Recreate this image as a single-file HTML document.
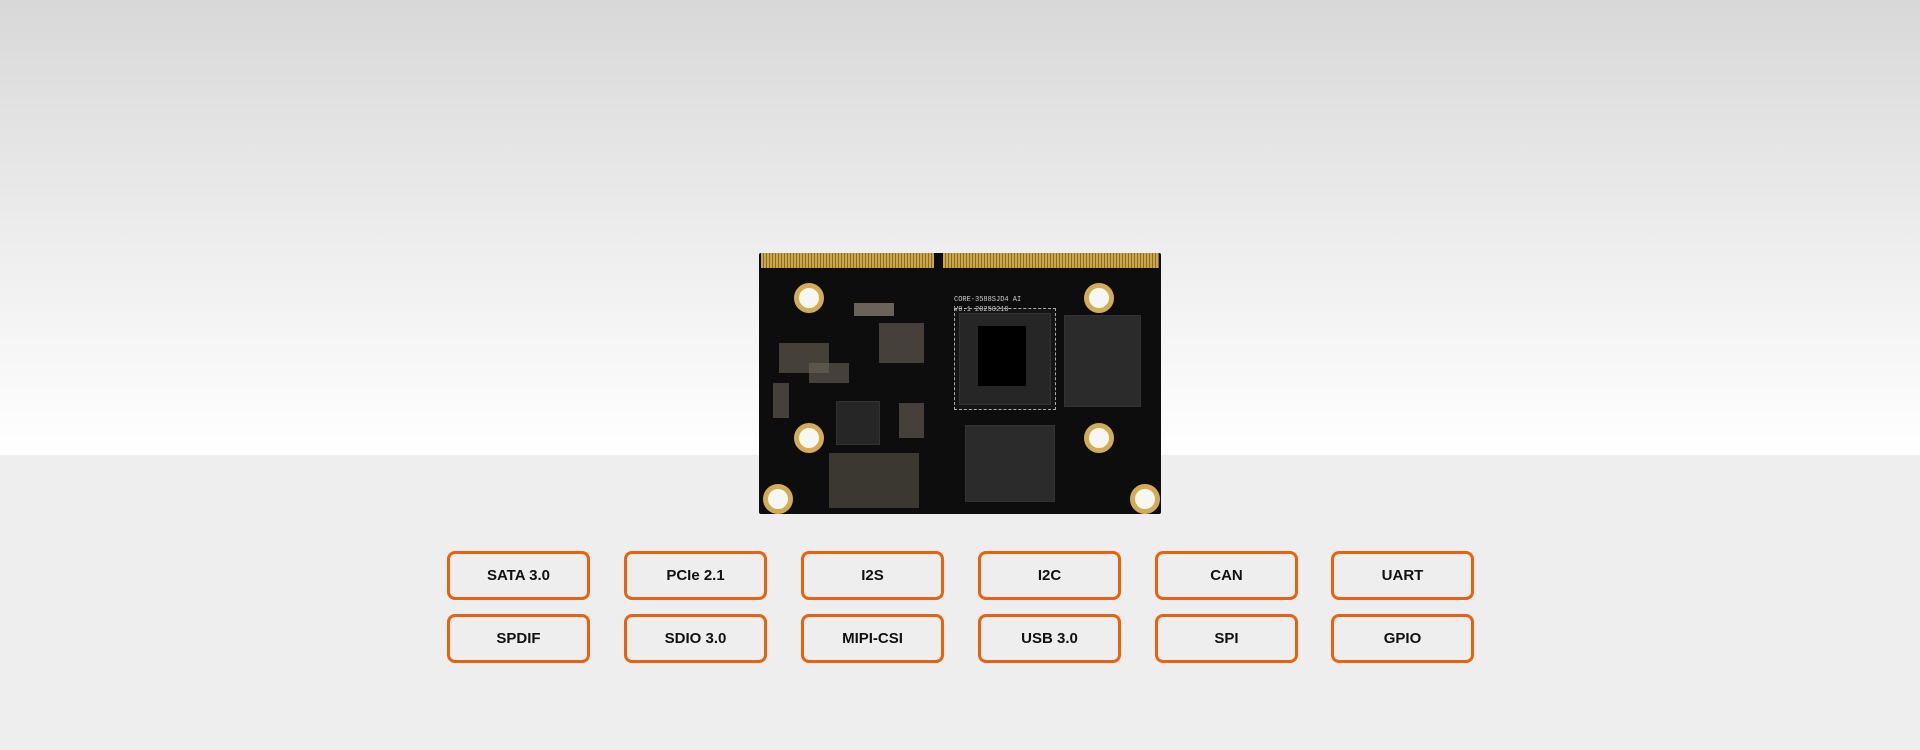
<!DOCTYPE html>
<html><head><style>
body{margin:0;width:1920px;height:750px;overflow:hidden;position:relative;font-family:"Liberation Sans",sans-serif;}
.top{position:absolute;left:0;top:0;width:1920px;height:455px;background:linear-gradient(#d8d8d8,#f0f0f0 60%,#fff);}
.floor{position:absolute;left:0;top:455px;width:1920px;height:295px;background:#eeeeee;}
.b{position:absolute;width:137px;height:43px;border:3px solid #e8620f;border-radius:8px;box-sizing:content-box;text-align:center;line-height:43px;font-size:15px;font-weight:bold;color:#111;}
.pcb{position:absolute;left:759px;top:253px;width:402px;height:261px;background:#0d0d0d;border-radius:2px;}
.gold{position:absolute;top:0;height:15px;background:repeating-linear-gradient(90deg,#c9a74a 0 2px,#8a6d25 2px 3px);}
.hole{position:absolute;width:20px;height:20px;border-radius:50%;border:5px solid #d2ad55;background:#f6f6f2;}
.chip{position:absolute;background:#262626;border:1px solid #333;}
.c{position:absolute;background:#6a6458;width:7px;height:11px;}
</style></head><body>
<div class="top"></div><div class="floor"></div>
<div class="pcb">
<div class="gold" style="left:2px;width:173px"></div>
<div class="gold" style="left:184px;width:216px"></div>
<div class="hole" style="left:35px;top:30px"></div>
<div class="hole" style="left:35px;top:170px"></div>
<div class="hole" style="left:4px;top:231px"></div>
<div class="hole" style="left:325px;top:30px"></div>
<div class="hole" style="left:325px;top:170px"></div>
<div class="hole" style="left:371px;top:231px"></div>
<div class="chip" style="left:195px;top:55px;width:100px;height:100px;border:1px dashed #aaa;background:#151515"></div>
<div class="chip" style="left:200px;top:60px;width:90px;height:90px"></div>
<div style="position:absolute;left:219px;top:73px;width:48px;height:60px;background:#000"></div>
<div class="chip" style="left:305px;top:62px;width:75px;height:90px;background:#2b2b2b"></div>
<div class="chip" style="left:206px;top:172px;width:88px;height:75px;background:#2b2b2b"></div>
<div class="chip" style="left:77px;top:148px;width:42px;height:42px"></div>
<div style="position:absolute;left:195px;top:42px;color:#ccc;font:7px 'Liberation Mono',monospace;line-height:10px">CORE-3588SJD4 AI<br>V0.1 20250210</div>
<div class="c" style="left:95px;top:50px;width:40px;height:13px"></div>
<div class="c" style="left:120px;top:70px;width:45px;height:40px;opacity:.6"></div>
<div class="c" style="left:20px;top:90px;width:50px;height:30px;opacity:.6"></div>
<div class="c" style="left:14px;top:130px;width:16px;height:35px;opacity:.6"></div>
<div class="c" style="left:70px;top:200px;width:90px;height:55px;opacity:.5"></div>
<div class="c" style="left:140px;top:150px;width:25px;height:35px;opacity:.6"></div>
<div class="c" style="left:50px;top:110px;width:40px;height:20px;opacity:.6"></div>
</div>
<div class="b" style="left:447px;top:551px">SATA 3.0</div>
<div class="b" style="left:624px;top:551px">PCIe 2.1</div>
<div class="b" style="left:801px;top:551px">I2S</div>
<div class="b" style="left:978px;top:551px">I2C</div>
<div class="b" style="left:1155px;top:551px">CAN</div>
<div class="b" style="left:1331px;top:551px">UART</div>
<div class="b" style="left:447px;top:614px">SPDIF</div>
<div class="b" style="left:624px;top:614px">SDIO 3.0</div>
<div class="b" style="left:801px;top:614px">MIPI-CSI</div>
<div class="b" style="left:978px;top:614px">USB 3.0</div>
<div class="b" style="left:1155px;top:614px">SPI</div>
<div class="b" style="left:1331px;top:614px">GPIO</div>
</body></html>
